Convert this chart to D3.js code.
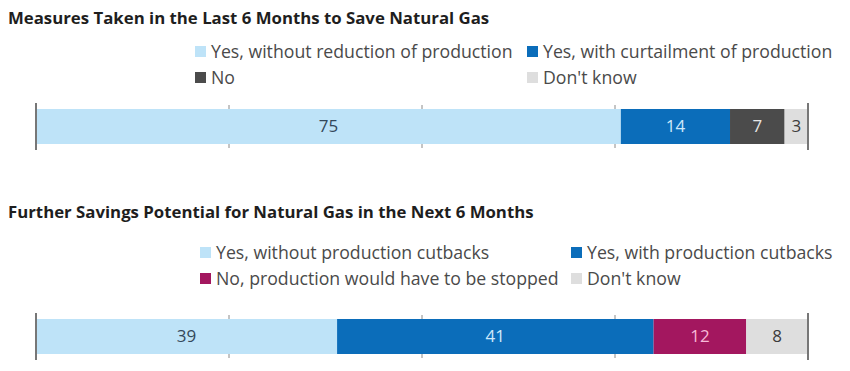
<!DOCTYPE html>
<html>
<head>
<meta charset="utf-8">
<script src="https://cdn.jsdelivr.net/npm/d3@7"></script>
<style>
  body { margin: 0; background: #fff; }
  svg { display: block; font-family: "Open Sans", "Noto Sans", sans-serif; }
</style>
</head>
<body>
<svg id="chart" width="850" height="371"></svg>
<script>
// Данные: первая панель
const measuresTitle = 'Measures Taken in the Last 6 Months to Save Natural Gas';
const measuresCategories = ['Yes, without reduction of production', 'Yes, with curtailment of production', 'No', "Don't know"];
const measuresValues = [75, 14, 7, 3];

// Данные: вторая панель
const potentialTitle = 'Further Savings Potential for Natural Gas in the Next 6 Months';
const potentialCategories = ['Yes, without production cutbacks', 'Yes, with production cutbacks', 'No, production would have to be stopped', "Don't know"];
const potentialValues = [39, 41, 12, 8];

const axisTicks = [25, 50, 75];

// Цвета сегментов и подписей
const measuresColors = ['#bee3f8', '#0b6dba', '#4b4b4b', '#dedede'];
const measuresLabelColors = ['#34485a', '#cfe9fa', '#e6e6e6', '#3c3c3c'];
const potentialColors = ['#bee3f8', '#0b6dba', '#a3175f', '#dedede'];
const potentialLabelColors = ['#34485a', '#cfe9fa', '#f7b9d8', '#3c3c3c'];

const svg = d3.select('#chart');
const x = d3.scaleLinear().domain([0, 100]).range([36, 808]);

// Отрисовка одной панели
function drawPanel(cfg) {
    const g = svg.append('g').attr('transform', `translate(0,${cfg.top})`);

    g.append('text')
        .attr('x', 8).attr('y', 0)
        .attr('dy', '0.35em')
        .attr('font-size', 16.8).attr('font-weight', 'bold')
        .attr('fill', '#1e1e1e')
        .text(cfg.title);

    // Легенда
    const legend = g.selectAll('.legend')
        .data(cfg.categories)
        .enter()
        .append('g')
        .attr('class', 'legend')
        .attr('transform', (d, i) => `translate(${cfg.legendX[i % 2]},${cfg.legendY + Math.floor(i / 2) * 26})`);

    legend.append('rect')
        .attr('x', 0).attr('y', -6)
        .attr('width', 11).attr('height', 11)
        .attr('fill', (d, i) => cfg.colors[i]);

    legend.append('text')
        .attr('x', 16).attr('y', 0)
        .attr('dy', '0.35em')
        .attr('font-size', 17.7)
        .attr('fill', '#4a4a4a')
        .text(d => d);

    // Полоса
    const total = d3.sum(cfg.values);
    const stacked = [];
    let acc = 0;
    cfg.values.forEach((v, i) => {
        const start = acc / total * 100;
        acc += v;
        stacked.push({ value: v, x0: start, x1: acc / total * 100, i });
    });

    const barY = cfg.barY;
    const barH = 35;

    g.selectAll('.tick')
        .data(axisTicks)
        .enter()
        .append('line')
        .attr('x1', d => x(d)).attr('x2', d => x(d))
        .attr('y1', barY - 4).attr('y2', barY + barH + 4)
        .attr('stroke', '#8a8a8a').attr('stroke-width', 1);

    g.selectAll('.seg')
        .data(stacked)
        .enter()
        .append('rect')
        .attr('x', d => x(d.x0))
        .attr('y', barY)
        .attr('width', d => x(d.x1) - x(d.x0))
        .attr('height', barH)
        .attr('fill', d => cfg.colors[d.i]);

    g.selectAll('.lbl')
        .data(stacked)
        .enter()
        .append('text')
        .attr('x', d => (x(d.x0) + x(d.x1)) / 2)
        .attr('y', barY + barH / 2)
        .attr('dy', '0.35em')
        .attr('text-anchor', 'middle')
        .attr('font-size', 17)
        .attr('fill', d => cfg.labelColors[d.i])
        .text(d => d.value);

    // Вертикальные линии по краям
    [0, 100].forEach(v => {
        g.append('line')
            .attr('x1', x(v)).attr('x2', x(v))
            .attr('y1', barY - 6).attr('y2', barY + barH + 6)
            .attr('stroke', '#777').attr('stroke-width', 2);
    });
}

drawPanel({
    top: 18, title: measuresTitle, categories: measuresCategories,
    values: measuresValues, colors: measuresColors, labelColors: measuresLabelColors,
    legendX: [195, 527], legendY: 34, barY: 91
});

drawPanel({
    top: 212, title: potentialTitle, categories: potentialCategories,
    values: potentialValues, colors: potentialColors, labelColors: potentialLabelColors,
    legendX: [200, 571], legendY: 41, barY: 107
});
</script>
</body>
</html>
